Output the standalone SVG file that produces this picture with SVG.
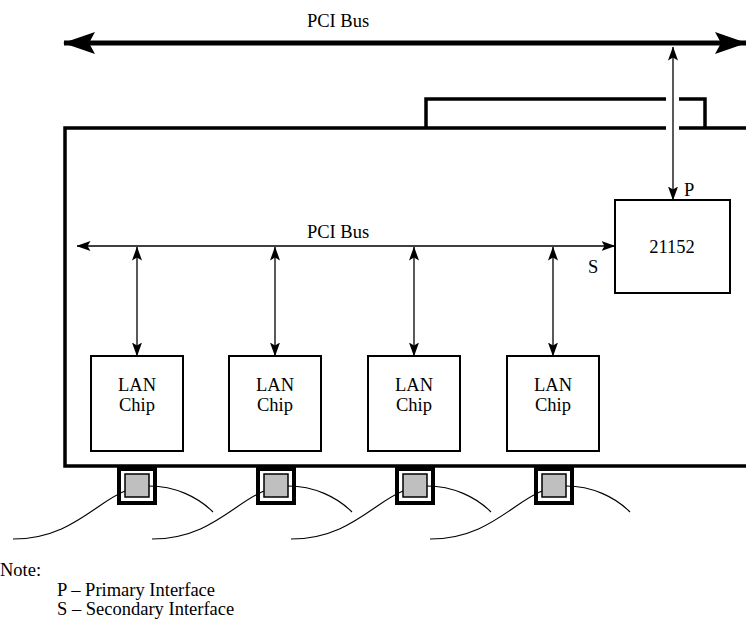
<svg xmlns="http://www.w3.org/2000/svg" width="746" height="626" viewBox="0 0 746 626">
<defs>
<marker id="big" viewBox="0 0 32 22" refX="31" refY="11" markerWidth="32" markerHeight="22" markerUnits="userSpaceOnUse" orient="auto-start-reverse">
<path d="M0,0 L32,11 L0,22 L6,11 Z" fill="#000"/>
</marker>
<marker id="sm" viewBox="0 0 14 10" refX="13.5" refY="5" markerWidth="14" markerHeight="10" markerUnits="userSpaceOnUse" orient="auto-start-reverse">
<path d="M0,0 L14,5 L0,10 L3,5 Z" fill="#000"/>
</marker>
</defs>
<style>
text{font-family:"Liberation Serif","Times New Roman",serif;fill:#000;font-size:18.5px}
.c{text-anchor:middle}
.box{fill:#fff;stroke:#000;stroke-width:2}
.thin{stroke:#000;stroke-width:1.3;fill:none}
.bus{stroke:#000;stroke-width:5;fill:none}
.board{stroke:#000;stroke-width:3.5;fill:none}
.outer{fill:#fff;stroke:#000;stroke-width:4}
.inner{fill:#bfbfbf;stroke:#000;stroke-width:1.5}
.cable{stroke:#000;stroke-width:1.1;fill:none}
</style>
<rect width="746" height="626" fill="#fff"/>

<g id="board">
<path class="board" d="M746,128 H65 V466 H746"/>
<path class="board" d="M426,128 V99 H705 V128"/>
<rect x="666" y="95" width="13" height="36" fill="#fff"/>
</g>

<g id="connectors">
<line class="bus" x1="64" y1="43" x2="746" y2="43" marker-start="url(#big)" marker-end="url(#big)"/>
<line class="thin" x1="673" y1="47" x2="673" y2="200" marker-start="url(#sm)" marker-end="url(#sm)"/>
<line class="thin" x1="77" y1="246" x2="615" y2="246" marker-start="url(#sm)" marker-end="url(#sm)"/>
<line class="thin" x1="137" y1="247" x2="137" y2="356" marker-start="url(#sm)" marker-end="url(#sm)"/>
<line class="thin" x1="275" y1="247" x2="275" y2="356" marker-start="url(#sm)" marker-end="url(#sm)"/>
<line class="thin" x1="414" y1="247" x2="414" y2="356" marker-start="url(#sm)" marker-end="url(#sm)"/>
<line class="thin" x1="553" y1="247" x2="553" y2="356" marker-start="url(#sm)" marker-end="url(#sm)"/>
</g>

<g id="bus-labels">
<text class="c" x="338" y="27">PCI Bus</text>
<text class="c" x="338" y="238">PCI Bus</text>
<text x="684" y="196">P</text>
<text x="588" y="273">S</text>
</g>

<g id="bridge">
<rect class="box" x="615" y="200" width="115" height="93"/>
<text class="c" x="672" y="253">21152</text>
</g>

<g id="lan1">
<rect class="box" x="91" y="356" width="92" height="95"/>
<text class="c" x="137" y="391">LAN</text>
<text class="c" x="137" y="411">Chip</text>
</g>
<g id="lan2">
<rect class="box" x="229" y="356" width="92" height="95"/>
<text class="c" x="275" y="391">LAN</text>
<text class="c" x="275" y="411">Chip</text>
</g>
<g id="lan3">
<rect class="box" x="368" y="356" width="92" height="95"/>
<text class="c" x="414" y="391">LAN</text>
<text class="c" x="414" y="411">Chip</text>
</g>
<g id="lan4">
<rect class="box" x="507" y="356" width="92" height="95"/>
<text class="c" x="553" y="391">LAN</text>
<text class="c" x="553" y="411">Chip</text>
</g>

<g id="port1">
<rect class="outer" x="119" y="469" width="36" height="34"/>
<rect class="inner" x="125" y="474" width="24" height="23"/>
<path class="cable" d="M125,491 C95,503 70,539 13,539"/>
<path class="cable" d="M149,486 C175,486 198,497 213,512"/>
</g>
<g id="port2">
<rect class="outer" x="258" y="469" width="36" height="34"/>
<rect class="inner" x="264" y="474" width="24" height="23"/>
<path class="cable" d="M264,491 C234,503 209,539 152,539"/>
<path class="cable" d="M288,486 C314,486 337,497 352,512"/>
</g>
<g id="port3">
<rect class="outer" x="397" y="469" width="36" height="34"/>
<rect class="inner" x="403" y="474" width="24" height="23"/>
<path class="cable" d="M403,491 C373,503 348,539 291,539"/>
<path class="cable" d="M427,486 C453,486 476,497 491,512"/>
</g>
<g id="port4">
<rect class="outer" x="536" y="469" width="36" height="34"/>
<rect class="inner" x="542" y="474" width="24" height="23"/>
<path class="cable" d="M542,491 C512,503 487,539 430,539"/>
<path class="cable" d="M566,486 C592,486 615,497 630,512"/>
</g>

<g id="note">
<text x="0" y="576">Note:</text>
<text x="57" y="596">P – Primary Interface</text>
<text x="57" y="615">S – Secondary Interface</text>
</g>
</svg>
